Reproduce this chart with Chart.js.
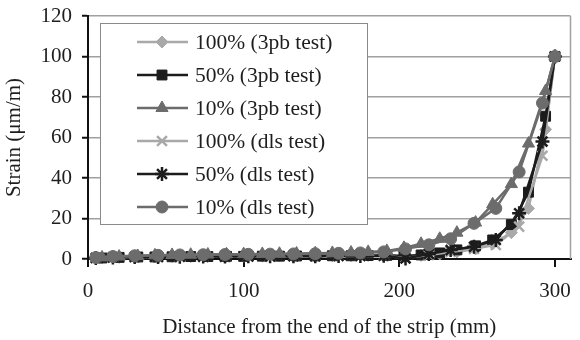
<!DOCTYPE html>
<html>
<head>
<meta charset="utf-8">
<script src="https://cdn.jsdelivr.net/npm/chart.js@4.4.1/dist/chart.umd.min.js"></script>
<style>
  html, body { margin: 0; padding: 0; background: #fff; }
  #wrap { width: 580px; height: 340px; position: relative; }
</style>
</head>
<body>
<div id="wrap"><canvas id="c" width="580" height="340"></canvas></div>
<script>
// Positions along the strip (mm)
const xs3pb = [9, 20, 32, 43, 54, 66, 77, 89, 100, 112, 123, 134, 146, 157, 169, 180, 192, 203, 214, 226, 237, 249, 260, 272, 283, 294, 300];
const xsDls = [5, 16, 30, 45, 59, 74, 88, 103, 117, 132, 146, 161, 175, 190, 204, 219, 233, 248, 262, 277, 292, 300];

// Strain values (µm/m)
const s100_3pb = [0.5, 0.8, 1.0, 1.0, 1.2, 1.2, 1.3, 1.3, 1.4, 1.4, 1.5, 1.5, 1.5, 1.6, 1.6, 1.7, 1.8, 1.2, 1.8, 2.5, 3.5, 5.0, 7.5, 13, 25, 64, 100];
const s50_3pb  = [0.5, 0.8, 1.0, 1.0, 1.1, 1.2, 1.2, 1.3, 1.3, 1.4, 1.4, 1.5, 1.5, 1.6, 1.6, 1.7, 1.8, 1.5, 2.0, 3.0, 4.5, 6.5, 9.4, 17, 33, 70.5, 100];
const s10_3pb  = [0.8, 1.2, 1.5, 1.8, 2.0, 2.1, 2.2, 2.3, 2.4, 2.5, 2.6, 2.7, 2.8, 3.0, 3.2, 3.5, 4.0, 5.5, 7.5, 10, 13, 18, 27, 37, 57, 83, 100];
const s100_dls = [0.5, 0.8, 1.0, 1.0, 1.1, 1.2, 1.2, 1.3, 1.3, 1.4, 1.4, 1.5, 1.5, 1.6, 0.5, 2.0, 3.5, 5.0, 7.0, 16, 51, 100];
const s50_dls  = [0.5, 0.8, 1.0, 1.0, 1.1, 1.2, 1.2, 1.3, 1.3, 1.4, 1.4, 1.5, 1.5, 1.6, 0.3, 2.5, 4.4, 6.0, 9.4, 22.6, 58, 100];
const s10_dls  = [0.7, 1.2, 1.6, 1.8, 2.0, 2.1, 2.2, 2.3, 2.4, 2.5, 2.6, 2.8, 3.0, 3.5, 5.0, 7.0, 10, 17.6, 25, 43, 77, 100];

const seriesLabels = ['100% (3pb test)', '50% (3pb test)', '10% (3pb test)', '100% (dls test)', '50% (dls test)', '10% (dls test)'];
const xTickValues = [0, 100, 200, 300];
const yTickValues = [0, 20, 40, 60, 80, 100, 120];

const LIGHT = '#a9a9a9', BLACK = '#1c1c1c', GRAY = '#6c6c6c';
const FONT = "'Liberation Serif', 'DejaVu Serif', serif";

function pts(xs, ys) { return xs.map((x, i) => ({x: x, y: ys[i]})); }

function ds(label, xs, ys, color, style, radius, order, bw) {
  return {
    label: label,
    data: pts(xs, ys),
    borderColor: color,
    backgroundColor: color,
    pointBackgroundColor: color,
    pointBorderColor: color,
    pointStyle: style,
    pointRadius: radius,
    pointBorderWidth: bw,
    borderWidth: 2.5,
    tension: 0,
    clip: false,
    order: order
  };
}

const datasets = [
  ds(seriesLabels[0], xs3pb, s100_3pb, LIGHT, 'rectRot', 6, 6, 1),
  ds(seriesLabels[1], xs3pb, s50_3pb, BLACK, 'rect', 7, 5, 1),
  ds(seriesLabels[2], xs3pb, s10_3pb, GRAY, 'triangle', 7, 2, 1),
  ds(seriesLabels[3], xsDls, s100_dls, LIGHT, 'crossRot', 7, 4, 2.5),
  ds(seriesLabels[4], xsDls, s50_dls, BLACK, 'star', 7, 3, 2.5),
  ds(seriesLabels[5], xsDls, s10_dls, GRAY, 'circle', 6, 1, 1)
];

const framePlugin = {
  id: 'frame',
  beforeDatasetsDraw(chart) {
    const {ctx, chartArea: a} = chart;
    ctx.save();
    ctx.strokeStyle = '#a0a0a0';
    ctx.lineWidth = 1.5;
    ctx.beginPath();
    ctx.moveTo(a.right, a.top);
    ctx.lineTo(a.right, a.bottom);
    ctx.stroke();
    ctx.restore();
  },
  afterDraw(chart) {
    const ctx = chart.ctx;
    const bx = 100, by = 23, bw = 267, bh = 201;
    ctx.save();
    ctx.fillStyle = '#fff';
    ctx.fillRect(bx, by, bw, bh);
    ctx.strokeStyle = '#8a8a8a';
    ctx.lineWidth = 1;
    ctx.strokeRect(bx + 0.5, by + 0.5, bw, bh);
    chart.data.datasets.forEach((d, i) => {
      const y = 42 + 33 * i;
      ctx.strokeStyle = d.borderColor;
      ctx.lineWidth = 2.5;
      ctx.beginPath();
      ctx.moveTo(137, y);
      ctx.lineTo(188, y);
      ctx.stroke();
      ctx.fillStyle = d.pointBackgroundColor;
      ctx.strokeStyle = d.pointBorderColor;
      ctx.lineWidth = d.pointBorderWidth;
      Chart.helpers.drawPoint(ctx, {pointStyle: d.pointStyle, radius: d.pointRadius, rotation: 0, borderWidth: d.pointBorderWidth}, 162, y);
      ctx.fillStyle = '#1e1e1e';
      ctx.font = '21.5px ' + FONT;
      ctx.textBaseline = 'middle';
      ctx.textAlign = 'left';
      ctx.fillText(d.label, 195, y + 1);
    });
    ctx.restore();
  }
};

new Chart(document.getElementById('c'), {
  type: 'line',
  data: { datasets: datasets },
  plugins: [framePlugin],
  options: {
    responsive: false,
    animation: false,
    layout: { padding: { left: 0, right: 1, top: 16, bottom: 0 } },
    plugins: { legend: { display: false }, tooltip: { enabled: false } },
    scales: {
      x: {
        type: 'linear',
        min: 0,
        max: 310,
        afterBuildTicks(scale) { scale.ticks = xTickValues.map(v => ({value: v})); },
        afterFit(scale) { scale.height = 81; scale.paddingLeft = 0; scale.paddingRight = 0; },
        border: { display: true, color: '#111', width: 2 },
        grid: { drawOnChartArea: false, drawTicks: true, tickLength: 8, color: '#111', lineWidth: 2 },
        ticks: { color: '#1e1e1e', font: { family: FONT, size: 21 }, padding: 12, maxRotation: 0 },
        title: { display: true, text: 'Distance from the end of the strip (mm)', color: '#1e1e1e', font: { family: FONT, size: 21 }, padding: { top: 0, bottom: 0 } }
      },
      y: {
        type: 'linear',
        min: 0,
        max: 120,
        afterBuildTicks(scale) { scale.ticks = yTickValues.map(v => ({value: v})); },
        afterFit(scale) { scale.width = 88; scale.paddingTop = 0; scale.paddingBottom = 0; },
        border: { display: true, color: '#111', width: 2 },
        grid: { drawOnChartArea: true, drawTicks: true, tickLength: 6, color: '#a0a0a0', lineWidth: 1.5, tickColor: '#111', tickWidth: 2 },
        ticks: { color: '#1e1e1e', font: { family: FONT, size: 21 }, padding: 10 },
        title: { display: true, text: 'Strain (\u03BCm/m)', color: '#1e1e1e', font: { family: FONT, size: 21 }, padding: { top: 2, bottom: 0 } }
      }
    }
  }
});
</script>
</body>
</html>
